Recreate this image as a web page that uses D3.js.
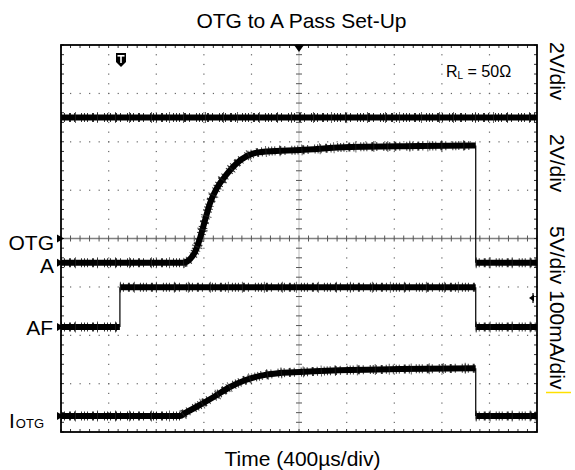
<!DOCTYPE html>
<html><head><meta charset="utf-8">
<script src="https://cdn.jsdelivr.net/npm/d3@7/dist/d3.min.js"></script>
<style>
html,body{margin:0;padding:0;background:#fff;}
svg{display:block;font-family:"Liberation Sans",Arial,sans-serif;}
</style></head>
<body>
<svg id="c" width="575" height="470"></svg>
<script>
// ---- data (time in µs relative to trigger; values in channel units) ----
const otgT = [-2000, 2000];
const otgV = [5.0, 5.0];                       // V, 2V/div
const aT = [-2000, -975, -916, -874, -832, -790, -748, -689, -605, -521, -437, -387, -269, 8, 429, 1017, 1485, 1485, 2000];
const aV = [0, 0, 0.15, 0.44, 1.01, 1.75, 2.46, 3.09, 3.67, 4.12, 4.41, 4.51, 4.60, 4.66, 4.78, 4.82, 4.85, 0, 0]; // V, 2V/div
const afT = [-2000, -1505, -1505, 1485, 1485, 2000];
const afV = [0, 0, 4.1, 4.1, 0, 0];            // V, 5V/div
const iT = [-2000, -1000, -958, -832, -706, -580, -454, -328, -160, 8, 429, 849, 1485, 1485, 2000];
const iV = [0, 0, 6, 23, 41, 60, 74, 83, 89, 91, 95, 97, 99, 0, 0]; // mA, 100mA/div
const channelNames = ["OTG", "A", "AF", "I"];
const scaleLabels = ["2V/div", "2V/div", "5V/div 100mA/div"];
const titleText = "OTG to A Pass Set-Up";
const xLabelText = "Time (400\u00b5s/div)";
const loadText = ["R", "L", " = 50\u03a9"];

// ---- layout ----
const svg = d3.select("#c");
const L = 61, R = 537, T = 45, B = 432;
const xDiv = d3.scaleLinear().domain([0, 10]).range([L, R]);
const yDiv = d3.scaleLinear().domain([-4, 4]).range([B, T]);
const x = d3.scaleLinear().domain([-2000, 2000]).range([L, R]);
// channel settings: units per division, ground offset in divisions
const ch = {
  OTG: {per: 2, off: 0},
  A: {per: 2, off: -0.5},
  AF: {per: 5, off: -1.83},
  I: {per: 100, off: -3.67}
};
const yCh = (c) => (v) => yDiv(v / ch[c].per + ch[c].off);

// ---- grid ----
const g = svg.append("g");
const minorX = d3.range(0, 50.001, 1).map(i => i / 5);
const minorY = d3.range(0, 40.001, 1).map(i => -4 + i / 5);
for (let i = 1; i < 10; i++) {
  if (i === 5) continue;
  g.selectAll(null).data(minorY).enter().append("rect")
    .attr("x", xDiv(i) - 0.5).attr("y", d => yDiv(d) - 0.5).attr("width", 1.2).attr("height", 1.2).attr("fill", "#666");
}
for (let j = -3; j <= 3; j++) {
  if (j === 0) continue;
  g.selectAll(null).data(minorX).enter().append("rect")
    .attr("x", d => xDiv(d) - 0.5).attr("y", yDiv(j) - 0.5).attr("width", 1.2).attr("height", 1.2).attr("fill", "#666");
}
g.append("line").attr("x1", xDiv(5)).attr("x2", xDiv(5)).attr("y1", T).attr("y2", B).attr("stroke", "#bbb").attr("stroke-width", 1);
g.selectAll(null).data(minorY).enter().append("line")
  .attr("x1", xDiv(5) - 3).attr("x2", xDiv(5) + 3).attr("y1", d => yDiv(d)).attr("y2", d => yDiv(d)).attr("stroke", "#555").attr("stroke-width", 1);
g.append("line").attr("x1", L).attr("x2", R).attr("y1", yDiv(0)).attr("y2", yDiv(0)).attr("stroke", "#808080").attr("stroke-width", 1.6);
g.selectAll(null).data(minorX).enter().append("line")
  .attr("y1", yDiv(0) - 3).attr("y2", yDiv(0) + 3).attr("x1", d => xDiv(d)).attr("x2", d => xDiv(d)).attr("stroke", "#555").attr("stroke-width", 1);
g.selectAll(null).data(minorX).enter().append("line")
  .attr("x1", d => xDiv(d)).attr("x2", d => xDiv(d)).attr("y1", T).attr("y2", T + 3).attr("stroke", "#333");
g.selectAll(null).data(minorX).enter().append("line")
  .attr("x1", d => xDiv(d)).attr("x2", d => xDiv(d)).attr("y1", B).attr("y2", B - 3).attr("stroke", "#333");
g.selectAll(null).data(minorY).enter().append("line")
  .attr("y1", d => yDiv(d)).attr("y2", d => yDiv(d)).attr("x1", L).attr("x2", L + 3).attr("stroke", "#333");
g.selectAll(null).data(minorY).enter().append("line")
  .attr("y1", d => yDiv(d)).attr("y2", d => yDiv(d)).attr("x1", R).attr("x2", R - 3).attr("stroke", "#333");

// ---- traces ----
const tr = svg.append("g");
function drawTrace(ts, vs, yf) {
  const pts = ts.map((t, i) => [x(t), yf(vs[i])]);
  const segs = []; const jumps = [];
  let seg = [pts[0]];
  for (let i = 1; i < pts.length; i++) {
    if (ts[i] === ts[i - 1]) { segs.push(seg); jumps.push([pts[i - 1], pts[i]]); seg = [pts[i]]; }
    else seg.push(pts[i]);
  }
  segs.push(seg);
  const line = d3.line().curve(d3.curveMonotoneX);
  jumps.forEach(j => tr.append("line").attr("x1", j[0][0]).attr("y1", j[0][1]).attr("x2", j[1][0]).attr("y2", j[1][1])
    .attr("stroke", "#111").attr("stroke-width", 1.3));
  segs.forEach(s => {
    tr.append("path").attr("d", line(s)).attr("fill", "none").attr("stroke", "#000").attr("stroke-width", 6);
    tr.append("path").attr("d", line(s)).attr("fill", "none").attr("stroke", "#000").attr("stroke-width", 9)
      .attr("stroke-dasharray", "1 2 1 4 2 3 1 6 1 2").attr("opacity", 0.8);
    tr.append("path").attr("d", line(s)).attr("fill", "none").attr("stroke", "#222").attr("stroke-width", 11)
      .attr("stroke-dasharray", "1 13 1 21 1 17").attr("opacity", 0.7);
  });
}
drawTrace(otgT, otgV, yCh("OTG"));
drawTrace(aT, aV, yCh("A"));
drawTrace(afT, afV, yCh("AF"));
drawTrace(iT, iV, yCh("I"));

svg.append("rect").attr("x", L).attr("y", T).attr("width", R - L).attr("height", B - T)
  .attr("fill", "none").attr("stroke", "#000").attr("stroke-width", 1.8);

svg.append("path").attr("d", `M${xDiv(5) - 5},${T} L${xDiv(5) + 5},${T} L${xDiv(5)},${T + 7} Z`).attr("fill", "#000");
const tx = 121, ty = 53;
svg.append("path").attr("d", `M${tx - 5},${ty} h10 v9 l-5,5 l-5,-5 Z`).attr("fill", "#000");
svg.append("rect").attr("x", tx - 3.5).attr("y", ty + 2).attr("width", 7).attr("height", 1.6).attr("fill", "#fff");
svg.append("rect").attr("x", tx - 0.8).attr("y", ty + 2).attr("width", 1.6).attr("height", 8).attr("fill", "#fff");

channelNames.forEach(c => {
  const yy = yCh(c)(0);
  svg.append("path").attr("d", `M${L - 4},${yy - 4} L${L + 3},${yy} L${L - 4},${yy + 4} Z`).attr("fill", "#000");
});
svg.append("path").attr("d", `M${R - 8},298 L${R - 3},294.5 L${R - 3},301.5 Z`).attr("fill", "#000");
svg.append("line").attr("x1", R - 4).attr("x2", R - 4).attr("y1", 293).attr("y2", 303).attr("stroke", "#000").attr("stroke-width", 1.2);

// ---- texts ----
const fs = 21;
svg.append("text").attr("x", 301.5).attr("y", 28).attr("text-anchor", "middle").attr("font-size", fs).text(titleText);
svg.append("text").attr("x", 302.5).attr("y", 466).attr("text-anchor", "middle").attr("font-size", fs).text(xLabelText);
const leftLab = svg.append("g").attr("font-size", fs).attr("text-anchor", "end");
leftLab.append("text").attr("x", 54).attr("y", 250).text(channelNames[0]);
leftLab.append("text").attr("x", 54).attr("y", 273).text(channelNames[1]);
leftLab.append("text").attr("x", 53).attr("y", 335).text(channelNames[2]);
const io = svg.append("text").attr("x", 9).attr("y", 428).attr("font-size", fs);
io.append("tspan").text(channelNames[3]);
io.append("tspan").attr("font-size", 13).attr("dx", 1).text("OTG");
const rl = svg.append("text").attr("x", 446).attr("y", 77).attr("font-size", 16);
rl.append("tspan").text(loadText[0]);
rl.append("tspan").attr("font-size", 10).attr("dy", 2).text(loadText[1]);
rl.append("tspan").attr("dy", -2).text(loadText[2]);
const rY = [42, 134, 226];
scaleLabels.forEach((s, i) => {
  svg.append("text").attr("transform", `translate(550,${rY[i]}) rotate(90)`).attr("font-size", fs).text(s);
});
svg.append("line").attr("x1", 546).attr("x2", 571).attr("y1", 392.5).attr("y2", 392.5).attr("stroke", "#ffe000").attr("stroke-width", 1.5);
</script>
</body></html>
